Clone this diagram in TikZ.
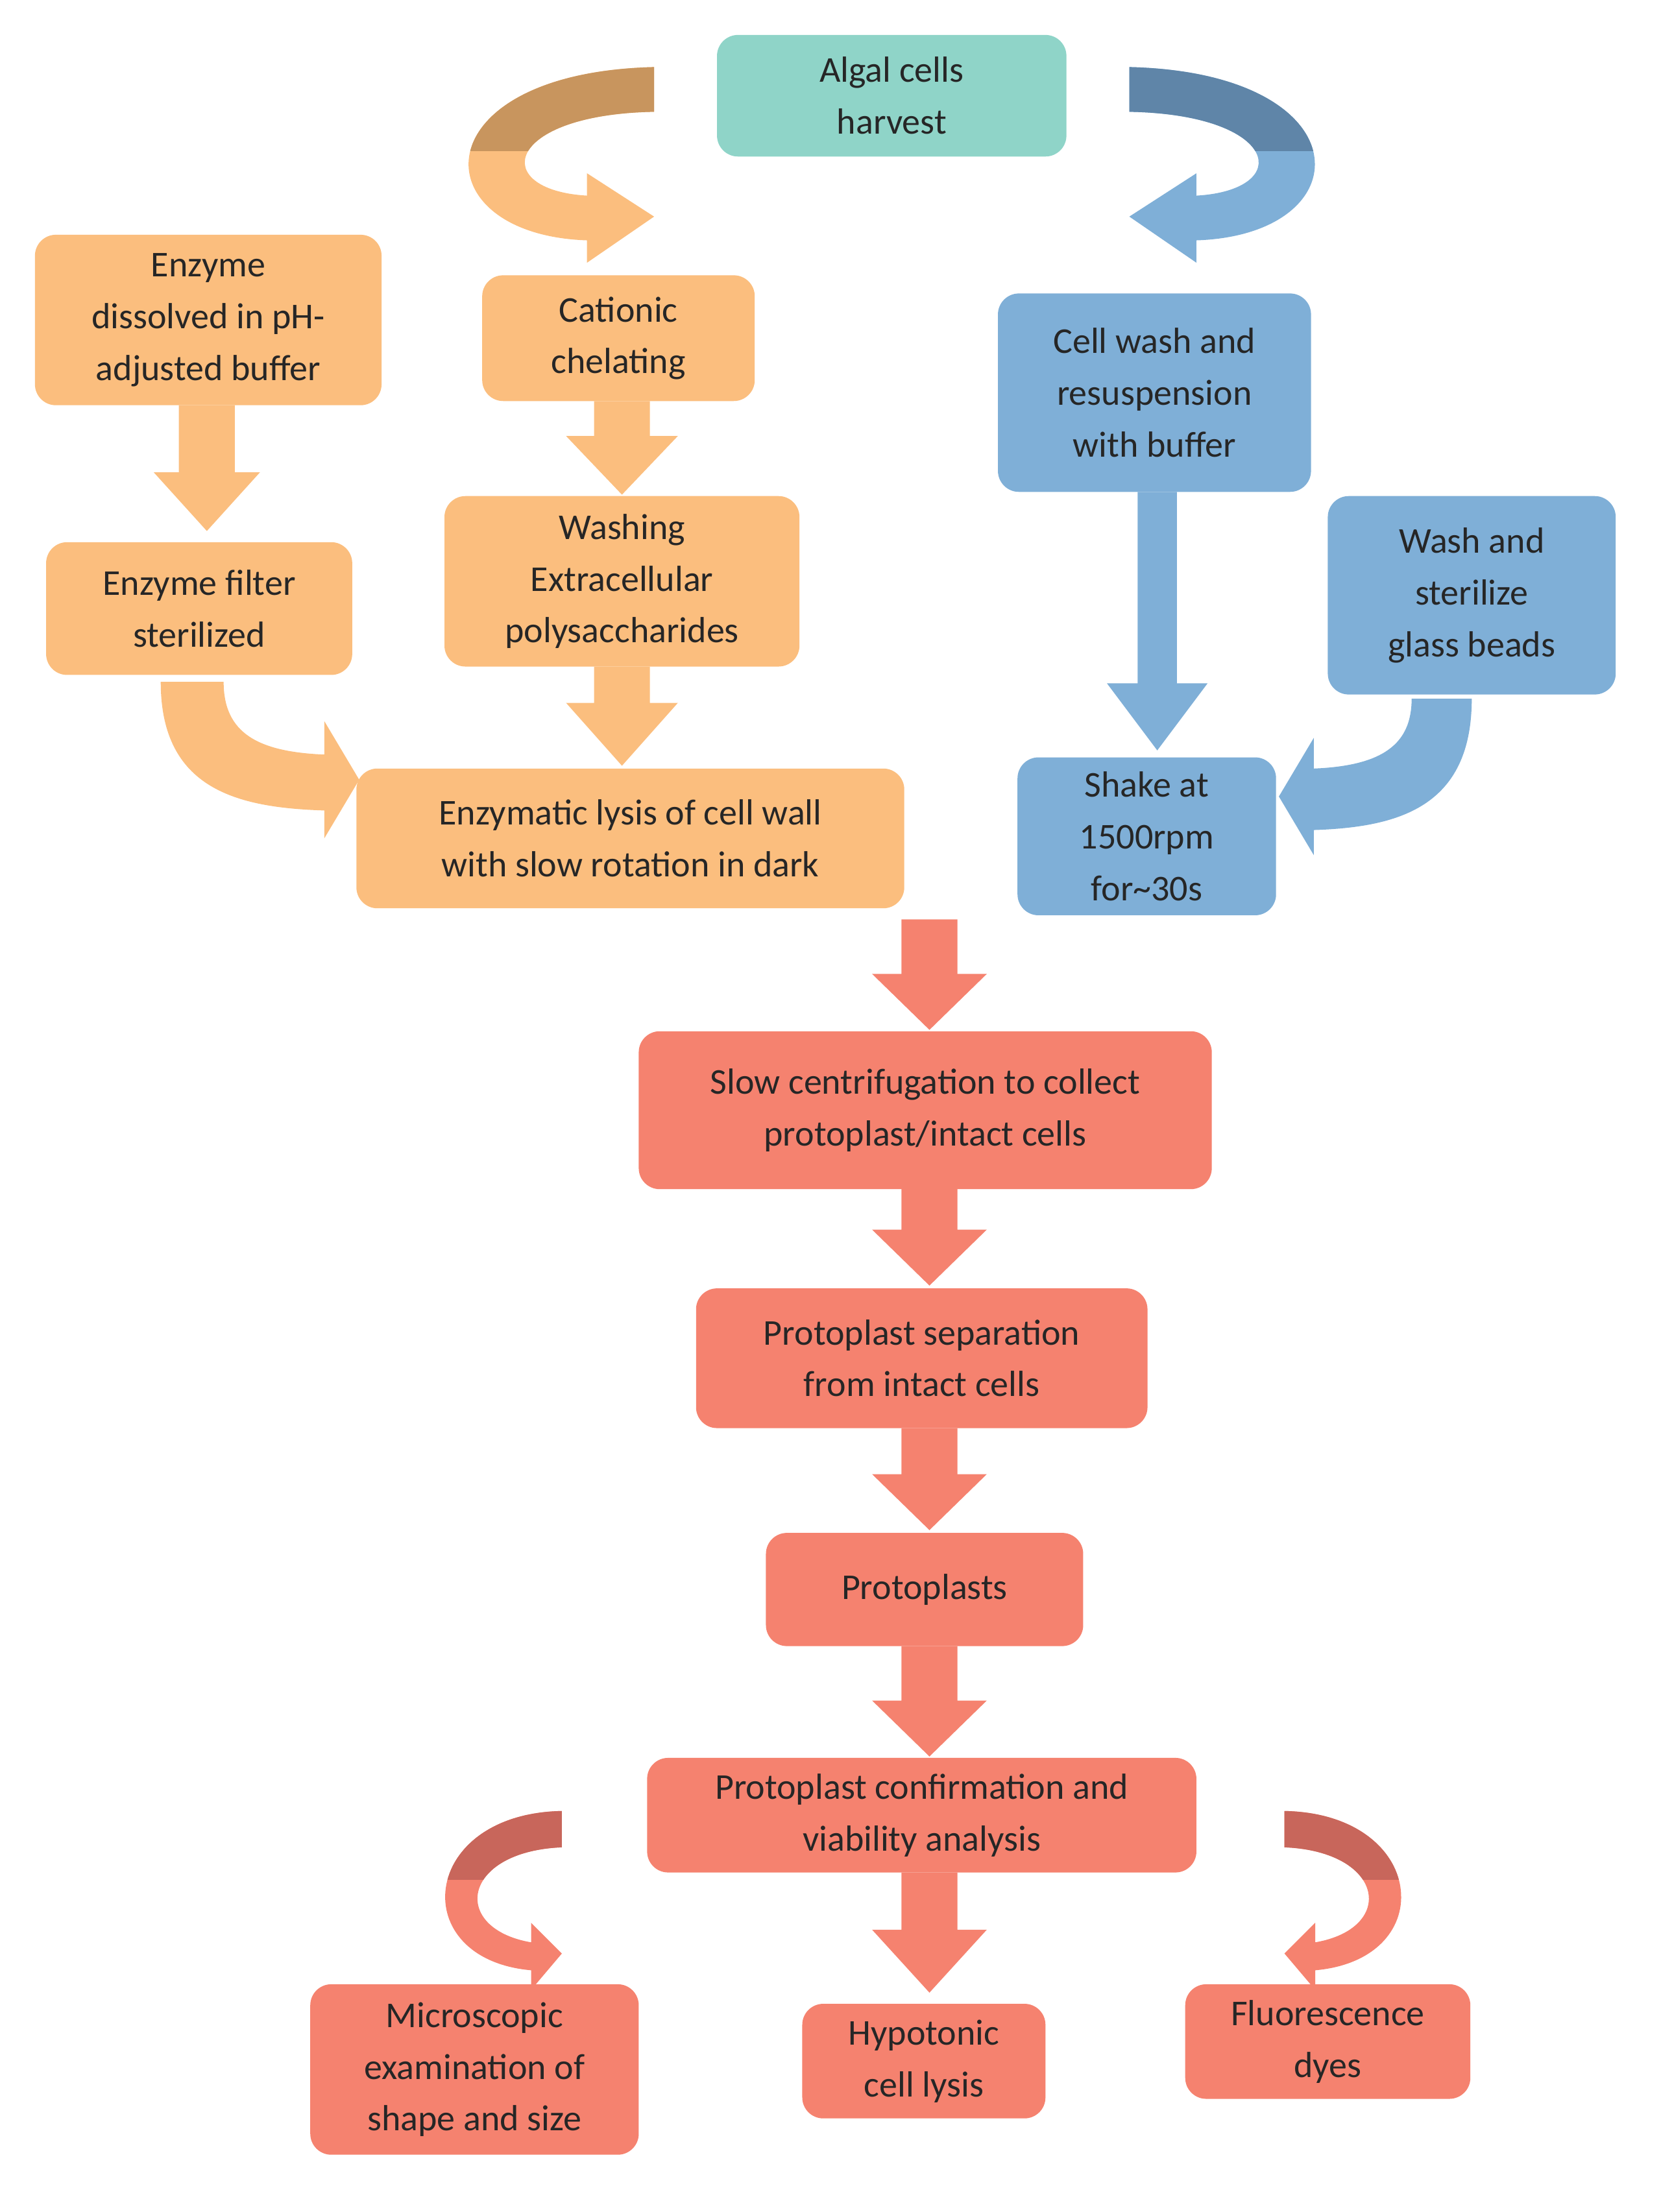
\documentclass[tikz,border=0pt]{standalone}
\usepackage{fontspec}
\setmainfont{Carlito}
\begin{document}
\definecolor{org}{HTML}{FBBE7E}\definecolor{orgd}{HTML}{C8955E}
\definecolor{blu}{HTML}{7FAFD7}\definecolor{blud}{HTML}{5F85A8}
\definecolor{sal}{HTML}{F5826F}\definecolor{sald}{HTML}{C8665B}
\definecolor{tea}{HTML}{8FD4C8}
\begin{tikzpicture}[x=1pt,y=-1pt,
 box/.style={rounded corners=15pt,inner sep=0pt,align=center,font=\fontsize{26}{37}\selectfont,text=black!85}]
\useasboundingbox (0,0) rectangle (1188,1583);
\newcommand\bx[7]{\node[box,fill=#6,minimum width=#4-#2,minimum height=#5-#3] (#1) at ({(#2+#4)/2},{(#3+#5)/2}) {#7};}
\newcommand\barr[7]{\fill[#7] ({#1-#4/2},#2) -- ({#1+#4/2},#2) -- ({#1+#4/2},{#3-#6}) -- ({#1+#5/2},{#3-#6}) -- (#1,#3) -- ({#1-#5/2},{#3-#6}) -- ({#1-#4/2},{#3-#6}) -- cycle;}
% block arrows
\barr{148}{290}{380}{40}{76}{42}{org}
\barr{445}{287}{354}{40}{80}{42}{org}
\barr{445}{477}{548}{40}{80}{45}{org}
\barr{828}{352}{537}{28}{72}{48}{blu}
\barr{665}{658}{737}{40}{82}{40}{sal}
\barr{665}{851}{920}{40}{82}{40}{sal}
\barr{665}{1022}{1095}{40}{82}{40}{sal}
\barr{665}{1178}{1257}{40}{82}{40}{sal}
\barr{665}{1340}{1426}{40}{82}{45}{sal}
% curved arrows
\def\topc{(468,48) .. controls (300,52) and (300,168) .. (420,172) -- (420,188) -- (468,155) -- (420,124) -- (420,140) .. controls (350,136) and (360,82) .. (468,80) -- cycle}
\fill[org] \topc; \begin{scope}\clip (0,0) rectangle (1188,108); \fill[orgd] \topc; \end{scope}
\begin{scope}[xshift=1276pt,xscale=-1]
\fill[blu] \topc; \begin{scope}\clip (0,0) rectangle (1188,108); \fill[blud] \topc; \end{scope}
\end{scope}
\fill[org] (115,488) .. controls (115,565) and (170,578) .. (232,580) -- (232,600) -- (257,558) -- (232,516) -- (232,540) .. controls (185,538) and (160,525) .. (160,488) -- cycle;
\fill[blu] (1053,500) .. controls (1053,578) and (1000,592) .. (940,594) -- (940,612) -- (915,570) -- (940,528) -- (940,550) .. controls (990,548) and (1010,532) .. (1010,500) -- cycle;
\def\botc{(402,1296) .. controls (300,1298) and (290,1402) .. (380,1410) -- (380,1424) -- (402,1398) -- (380,1376) -- (380,1390) .. controls (322,1380) and (330,1325) .. (402,1322) -- cycle}
\fill[sal] \botc; \begin{scope}\clip (0,0) rectangle (1188,1345); \fill[sald] \botc; \end{scope}
\begin{scope}[xshift=1321pt,xscale=-1]
\fill[sal] \botc; \begin{scope}\clip (0,0) rectangle (1188,1345); \fill[sald] \botc; \end{scope}
\end{scope}
% boxes
\bx{algal}{513}{25}{763}{112}{tea}{Algal cells\\harvest}
\bx{enzd}{25}{168}{273}{290}{org}{Enzyme\\dissolved in pH-\\adjusted buffer}
\bx{cat}{345}{197}{540}{287}{org}{Cationic\\chelating}
\bx{cw}{714}{210}{938}{352}{blu}{Cell wash and\\resuspension\\with buffer}
\bx{ef}{33}{388}{252}{483}{org}{Enzyme filter\\sterilized}
\bx{wash}{318}{355}{572}{477}{org}{Washing\\Extracellular\\polysaccharides}
\bx{ws}{950}{355}{1156}{497}{blu}{Wash and\\sterilize\\glass beads}
\bx{lys}{255}{550}{647}{650}{org}{Enzymatic lysis of cell wall\\with slow rotation in dark}
\bx{shake}{728}{542}{913}{655}{blu}{Shake at\\1500rpm\\for\textasciitilde30s}
\bx{slow}{457}{738}{867}{851}{sal}{Slow centrifugation to collect\\protoplast/intact cells}
\bx{sep}{498}{922}{821}{1022}{sal}{Protoplast separation\\from intact cells}
\bx{pro}{548}{1097}{775}{1178}{sal}{Protoplasts}
\bx{conf}{463}{1258}{856}{1340}{sal}{Protoplast confirmation and\\viability analysis}
\bx{mic}{222}{1420}{457}{1542}{sal}{Microscopic\\examination of\\shape and size}
\bx{hyp}{574}{1434}{748}{1516}{sal}{Hypotonic\\cell lysis}
\bx{flu}{848}{1420}{1052}{1502}{sal}{Fluorescence\\dyes}
\end{tikzpicture}
\end{document}
